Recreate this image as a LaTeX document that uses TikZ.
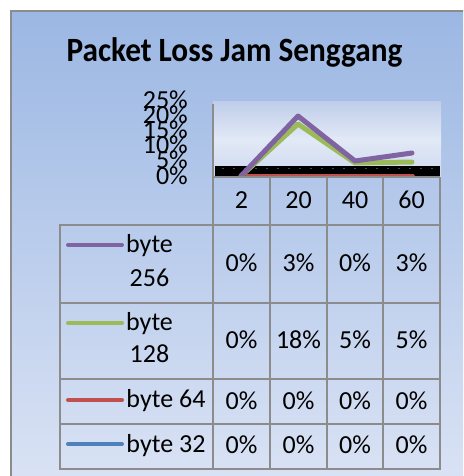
\documentclass[tikz,border=0pt]{standalone}
\usepackage{fontspec}
\setmainfont{Carlito}
\definecolor{bgtop}{RGB}{155,183,227}
\definecolor{bgbot}{RGB}{220,228,245}
\definecolor{gridc}{RGB}{140,140,140}
\definecolor{plottop}{RGB}{192,206,234}
\definecolor{plotmid}{RGB}{226,233,246}
\definecolor{plotbot}{RGB}{206,217,240}
\definecolor{dotc}{RGB}{40,90,90}
\definecolor{ser256}{RGB}{128,100,162}
\definecolor{ser128}{RGB}{155,187,89}
\definecolor{ser64}{RGB}{192,80,77}
\definecolor{ser32}{RGB}{79,129,189}
\begin{document}
\begin{tikzpicture}[x=1pt,y=-1pt,
  txt/.style={font=\fontsize{26}{30}\selectfont, inner sep=0pt, anchor=base},
  ylab/.style={font=\fontsize{26}{30}\selectfont, inner sep=0pt, anchor=base east},
  ttl/.style={font=\fontsize{34}{40}\selectfont\bfseries, inner sep=0pt, anchor=base, xscale=0.92},
  gridline/.style={draw=gridc, line width=2pt},
  serline/.style={line width=5pt, line join=round, line cap=round},
  legline/.style={line width=4pt, line cap=round}]
\useasboundingbox (0,0) rectangle (463,476);
\clip (0,0) rectangle (463,476);
\fill[white] (0,0) rectangle (463,476);
% chart background
\shade[top color=bgtop, bottom color=bgbot] (11,11) rectangle (475,495);
\draw[gridc, line width=2pt] (11,495) -- (11,11) -- (475,11);
% title
\node[ttl] (title) at (234.5,62) {Packet Loss Jam Senggang};
% plot area
\shade[top color=plottop, bottom color=plotbot, middle color=plotmid] (213,102) rectangle (441,177);
\fill[black] (215,166) rectangle (440,176);
\draw[dotc, line width=1.5pt, dash pattern=on 1.5pt off 9.5pt] (222,168.5) -- (440,168.5);
\draw[gridc, line width=1.5pt] (213,104) -- (213,177);
% y labels
\node[ylab] (y25) at (188,108.5) {25\%};
\node[ylab] (y20) at (188,123.6) {20\%};
\node[ylab] (y15) at (188,138.7) {15\%};
\node[ylab] (y10) at (188,153.8) {10\%};
\node[ylab] (y5)  at (188,168.9) {5\%};
\node[ylab] (y0)  at (188,184) {0\%};
% series
\coordinate (a1) at (241,176);
\coordinate (a2) at (298,116);
\coordinate (a3) at (355,161);
\coordinate (a4) at (412,153);
\coordinate (b1) at (241,176);
\coordinate (b2) at (298,124);
\coordinate (b3) at (355,163);
\coordinate (b4) at (412,162);
\coordinate (c1) at (247,175);
\coordinate (c4) at (413,175);
\begin{scope}
\clip (213,95) rectangle (441,177);
\draw[ser32, line width=3pt, line cap=round] (c1) -- (c4);
\draw[ser64, line width=3pt, line cap=round] (c1) -- (c4);
\draw[ser128, serline] (b1) -- (b2) -- (b3) -- (b4);
\draw[ser256, serline] (a1) -- (a2) -- (a3) -- (a4);
\end{scope}
% table grid
\draw[gridline] (213,177) -- (440,177);
\draw[gridline] (60,225) rectangle (440,469);
\draw[gridline] (440,177) -- (440,225);
\draw[gridline] (213,177) -- (213,469);
\foreach \xx in {270,327,383} \draw[gridline] (\xx,177) -- (\xx,469);
\foreach \yy in {303,379,424} \draw[gridline] (60,\yy) -- (440,\yy);
% header
\node[txt] (h1) at (241.5,208) {2};
\node[txt] (h2) at (298.5,208) {20};
\node[txt] (h3) at (355,208) {40};
\node[txt] (h4) at (411.5,208) {60};
% legend
\draw[ser256, legline] (68,245) -- (122,245);
\node[txt] (l1a) at (149.5,252.5) {byte};
\node[txt] (l1b) at (149.5,286) {256};
\draw[ser128, legline] (68,323) -- (122,323);
\node[txt] (l2a) at (149.5,330.5) {byte};
\node[txt] (l2b) at (149.5,362.5) {128};
\draw[ser64, legline] (68,400) -- (122,400);
\node[txt] (l3) at (166,407.5) {byte 64};
\draw[ser32, legline] (68,444) -- (122,444);
\node[txt] (l4) at (166,452) {byte 32};
% data
\node[txt] (d11) at (241.5,271.5) {0\%};
\node[txt] (d12) at (298.5,271.5) {3\%};
\node[txt] (d13) at (355,271.5) {0\%};
\node[txt] (d14) at (411.5,271.5) {3\%};
\node[txt] (d21) at (241.5,348) {0\%};
\node[txt] (d22) at (298.5,348) {18\%};
\node[txt] (d23) at (355,348) {5\%};
\node[txt] (d24) at (411.5,348) {5\%};
\node[txt] (d31) at (241.5,409) {0\%};
\node[txt] (d32) at (298.5,409) {0\%};
\node[txt] (d33) at (355,409) {0\%};
\node[txt] (d34) at (411.5,409) {0\%};
\node[txt] (d41) at (241.5,453) {0\%};
\node[txt] (d42) at (298.5,453) {0\%};
\node[txt] (d43) at (355,453) {0\%};
\node[txt] (d44) at (411.5,453) {0\%};
\end{tikzpicture}
\end{document}
